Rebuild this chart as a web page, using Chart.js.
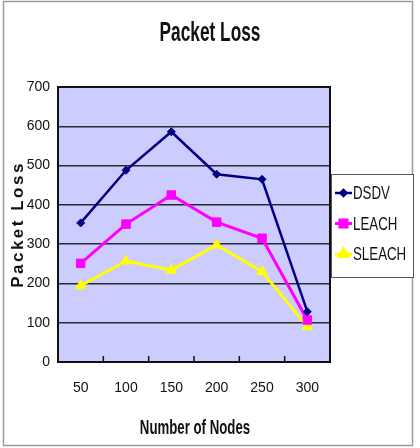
<!DOCTYPE html>
<html>
<head>
<meta charset="utf-8">
<script src="https://cdn.jsdelivr.net/npm/chart.js@4/dist/chart.umd.min.js"></script>
<style>
  html, body { margin: 0; padding: 0; background: #fff; }
  #wrap { width: 420px; height: 448px; position: relative; }
</style>
</head>
<body>
<div id="wrap"><canvas id="chart"></canvas></div>
<script>
// 数据
const nodes = ['50', '100', '150', '200', '250', '300'];
const dsdv = [354, 488, 586, 478, 465, 128];
const leach = [251, 351, 425, 356, 315, 107];
const sleach = [194, 257, 234, 298, 230, 90];
const yTicks = [0, 100, 200, 300, 400, 500, 600, 700];

const titleText = 'Packet Loss';
const xTitleText = 'Number of Nodes';
const yTitleText = 'Packet Loss';

const sans = '"Liberation Sans", Arial, sans-serif';

// 压窄的文字（原图字体是窄体）
function narrowText(ctx, text, x, y, font, sx, align) {
    ctx.save();
    ctx.font = font;
    ctx.textBaseline = 'middle';
    ctx.textAlign = align || 'center';
    ctx.translate(x, y);
    ctx.scale(sx, 1);
    ctx.fillText(text, 0, 0);
    ctx.restore();
}

const framePlugin = {
    id: 'frame',
    beforeDraw(chart) {
        const ctx = chart.ctx;
        const a = chart.chartArea;
        ctx.save();
        ctx.fillStyle = '#fff';
        ctx.fillRect(0, 0, chart.width, chart.height);
        ctx.strokeStyle = '#9a9a9a';
        ctx.lineWidth = 1.5;
        ctx.strokeRect(3.5, 1.5, 409, 444);
        ctx.fillStyle = '#ccccff';
        ctx.fillRect(a.left, a.top, a.right - a.left, a.bottom - a.top);
        ctx.restore();
    },
    afterDatasetsDraw(chart) {
        const ctx = chart.ctx;
        const a = chart.chartArea;
        const x = chart.scales.x;
        ctx.save();
        ctx.strokeStyle = '#111';
        ctx.lineWidth = 2;
        ctx.strokeRect(a.left, a.top, a.right - a.left, a.bottom - a.top);
        // 类别之间的小刻度
        ctx.lineWidth = 1.5;
        for (let i = 0; i < nodes.length - 1; i++) {
            const px = (x.getPixelForTick(i) + x.getPixelForTick(i + 1)) / 2;
            ctx.beginPath();
            ctx.moveTo(px, a.bottom);
            ctx.lineTo(px, a.bottom - 6);
            ctx.stroke();
        }
        ctx.restore();
    },
    afterDraw(chart) {
        const ctx = chart.ctx;
        const a = chart.chartArea;
        ctx.fillStyle = '#111';

        // 标题
        narrowText(ctx, titleText, 210, 34, 'bold 27px ' + sans, 0.64);
        // x 轴标题
        narrowText(ctx, xTitleText, (a.left + a.right) / 2 + 1, 428, 'bold 21px ' + sans, 0.63);
        // y 轴标题（加字距）
        ctx.save();
        ctx.translate(18, (a.top + a.bottom) / 2);
        ctx.rotate(-Math.PI / 2);
        ctx.font = 'bold 17px ' + sans;
        ctx.letterSpacing = '2.5px';
        ctx.textAlign = 'center';
        ctx.textBaseline = 'middle';
        ctx.fillStyle = '#111';
        ctx.fillText(yTitleText, 0, 0);
        ctx.restore();

        // 图例
        const bx = 331, by = 174, bw = 82, bh = 103;
        ctx.save();
        ctx.fillStyle = '#fff';
        ctx.fillRect(bx, by, bw, bh);
        ctx.strokeStyle = '#555';
        ctx.lineWidth = 1;
        ctx.strokeRect(bx + 0.5, by + 0.5, bw, bh);
        chart.data.datasets.forEach((ds, i) => {
            const y = 193 + i * 30.5;
            ctx.strokeStyle = ds.borderColor;
            ctx.lineWidth = ds.borderWidth;
            ctx.beginPath();
            ctx.moveTo(335, y);
            ctx.lineTo(352, y);
            ctx.stroke();
            ctx.fillStyle = ds.borderColor;
            Chart.helpers.drawPoint(ctx, {
                pointStyle: ds.pointStyle,
                radius: ds.pointRadius - 1,
                borderWidth: 1
            }, 343.5, y);
            ctx.fillStyle = '#111';
            narrowText(ctx, ds.label, 353, y + 1, '19px ' + sans, 0.7, 'left');
        });
        ctx.restore();
    }
};

new Chart(document.getElementById('chart'), {
    type: 'line',
    data: {
        labels: nodes,
        datasets: [
            {
                label: 'DSDV',
                data: dsdv,
                borderColor: '#000080',
                backgroundColor: '#000080',
                borderWidth: 2.5,
                pointStyle: 'rectRot',
                pointRadius: 4,
                pointBorderWidth: 1
            },
            {
                label: 'LEACH',
                data: leach,
                borderColor: '#ff00ff',
                backgroundColor: '#ff00ff',
                borderWidth: 3,
                pointStyle: 'rect',
                pointRadius: 6,
                pointBorderWidth: 1
            },
            {
                label: 'SLEACH',
                data: sleach,
                borderColor: '#ffff00',
                backgroundColor: '#ffff00',
                borderWidth: 3,
                pointStyle: 'triangle',
                pointRadius: 6,
                pointBorderWidth: 1
            }
        ]
    },
    options: {
        responsive: true,
        maintainAspectRatio: false,
        animation: false,
        layout: {
            padding: { left: 0, right: 90, top: 87, bottom: 0 }
        },
        scales: {
            x: {
                offset: true,
                grid: { display: false, drawTicks: false },
                border: { display: false },
                ticks: {
                    color: '#111',
                    padding: 18,
                    maxRotation: 0,
                    font: { family: sans, size: 14 }
                },
                afterFit(scale) { scale.height = 86; }
            },
            y: {
                min: 0,
                max: 700,
                afterBuildTicks(scale) {
                    scale.ticks = yTicks.map(v => ({ value: v }));
                },
                grid: { color: '#2a2a2a', lineWidth: 1.5, drawTicks: false },
                border: { display: false },
                ticks: {
                    color: '#111',
                    padding: 8,
                    font: { family: sans, size: 14 }
                },
                afterFit(scale) { scale.width = 58; }
            }
        },
        plugins: {
            legend: { display: false },
            tooltip: { enabled: false },
            title: { display: false }
        }
    },
    plugins: [framePlugin]
});
</script>
</body>
</html>
